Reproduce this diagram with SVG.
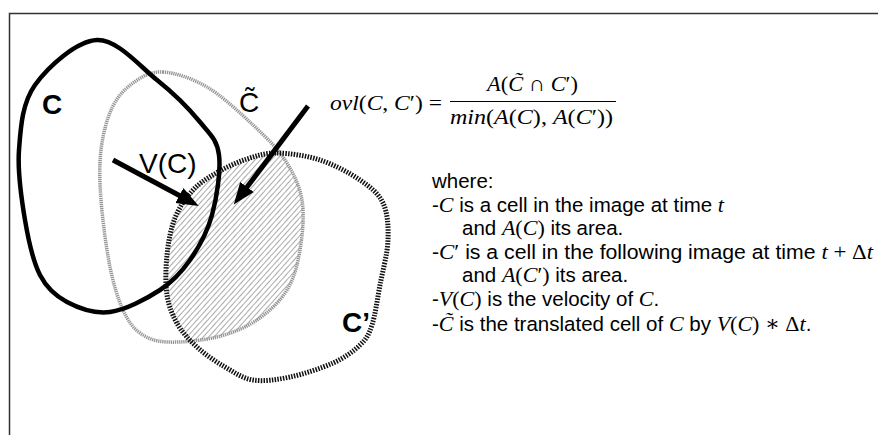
<svg xmlns="http://www.w3.org/2000/svg" width="878" height="435" viewBox="0 0 878 435">
<style>
.lbl{font-family:"Liberation Sans",Arial,sans-serif;font-size:28px;fill:#000}
.b{font-weight:bold}
.m{font-family:"Liberation Serif","DejaVu Serif",serif;font-size:22px;fill:#000}
.i{font-style:italic}
.t{font-family:"Liberation Sans",Arial,sans-serif;font-size:20.5px;fill:#000}
.mi{font-family:"Liberation Serif","DejaVu Serif",serif;font-style:italic;font-size:22px}
.mr{font-family:"Liberation Serif","DejaVu Serif",serif;font-size:22px}
.arrow{stroke:#000;stroke-width:5;fill:none;marker-end:url(#ah)}
</style>
<defs>
<pattern id="hatch" width="4" height="4" patternUnits="userSpaceOnUse" patternTransform="rotate(42)"><line x1="0" y1="-1" x2="0" y2="6" stroke="#444" stroke-width="0.9"/></pattern>
<path id="pCt" d="M163,72 C175.3,72.7 192,78.2 207,87 C222,95.8 240,112.8 253,125 C266,137.2 276.8,147.5 285,160 C293.2,172.5 299.5,185 302,200 C304.5,215 302.5,235 300,250 C297.5,265 294.2,278.3 287,290 C279.8,301.7 268.7,312.2 257,320 C245.3,327.8 232,333.3 217,337 C202,340.7 179.8,342.7 167,342 C154.2,341.3 147.3,338.3 140,333 C132.7,327.7 128,321 123,310 C118,299 113.7,285.3 110,267 C106.3,248.7 102.5,219.5 101,200 C99.5,180.5 99.2,165.3 101,150 C102.8,134.7 106.7,119.2 112,108 C117.3,96.8 124.5,89 133,83 C141.5,77 150.7,71.3 163,72 Z"/>
<path id="pCp" d="M277,153 C289.2,153.2 306.2,155.5 320,160 C333.8,164.5 349.5,172.8 360,180 C370.5,187.2 378.3,193 383,203 C387.7,213 388.5,226.3 388,240 C387.5,253.7 382.7,270.8 380,285 C377.3,299.2 375.3,315 372,325 C368.7,335 366.5,338.7 360,345 C353.5,351.3 344.7,357.7 333,363 C321.3,368.3 303.3,374.2 290,377 C276.7,379.8 263.8,381.7 253,380 C242.2,378.3 234.2,372.3 225,367 C215.8,361.7 205.8,355 198,348 C190.2,341 183.2,333.8 178,325 C172.8,316.2 168.8,306.7 167,295 C165.2,283.3 165.7,267.8 167,255 C168.3,242.2 170.7,228.8 175,218 C179.3,207.2 185.8,197.7 193,190 C200.2,182.3 209,177.2 218,172 C227,166.8 237.2,162.2 247,159 C256.8,155.8 264.8,152.8 277,153 Z"/>
<clipPath id="ctClip"><use href="#pCt"/></clipPath>
<marker id="ah" markerUnits="userSpaceOnUse" markerWidth="23" markerHeight="20" refX="8" refY="10" orient="auto"><path d="M0,1.5 L22,10 L0,18.5 z" fill="#000"/></marker>
</defs>
<rect width="878" height="435" fill="#fff"/>
<path d="M9.5,435 V13.5 H878" fill="none" stroke="#333" stroke-width="1.5"/>

<g id="overlap">
<use href="#pCp" fill="url(#hatch)" stroke="none" clip-path="url(#ctClip)"/>
</g>
<g id="cell-Ctilde">
<use href="#pCt" fill="none" stroke="#959595" stroke-width="3.5" stroke-dasharray="1.3 0.8"/>
<text class="lbl" x="239" y="112">C̃</text>
</g>
<g id="cell-Cprime">
<use href="#pCp" fill="none" stroke="#111" stroke-width="5" stroke-dasharray="1.5 1.3"/>
<text class="lbl b" x="342" y="332">C’</text>
</g>
<g id="cell-C">
<path d="M97,40 C117.3,39.2 139.8,66.3 157,80 C174.2,93.7 189.7,109.5 200,122 C210.3,134.5 217,139.5 219,155 C221,170.5 216.8,197.5 212,215 C207.2,232.5 198.7,247.5 190,260 C181.3,272.5 173.3,281.3 160,290 C146.7,298.7 125.5,310 110,312 C94.5,314 78.7,308.2 67,302 C55.3,295.8 47,288.7 40,275 C33,261.3 28.5,240.8 25,220 C21.5,199.2 17.3,172.5 19,150 C20.7,127.5 22,103.3 35,85 C48,66.7 76.7,40.8 97,40 Z" fill="none" stroke="#000" stroke-width="4.5"/>
<text class="lbl b" x="42" y="114" font-size="29">C</text>
</g>
<g id="connectors">
<line class="arrow" x1="113" y1="160" x2="186.4" y2="199.3"/>
<text class="lbl" x="139" y="173">V(C)</text>
<line class="arrow" x1="308" y1="106" x2="242.2" y2="193.4"/>
</g>
<g id="formula">
<text class="m" x="330" y="110" textLength="112" lengthAdjust="spacingAndGlyphs"><tspan class="i">ovl</tspan>(<tspan class="i">C</tspan>, <tspan class="i">C</tspan>′) =</text>
<text class="m" x="487" y="91" textLength="91" lengthAdjust="spacingAndGlyphs"><tspan class="i">A</tspan>(<tspan class="i">C̃</tspan> ∩ <tspan class="i">C</tspan>′)</text>
<line x1="450" y1="101.5" x2="616" y2="101.5" stroke="#000" stroke-width="1"/>
<text class="m" x="450" y="124" textLength="163" lengthAdjust="spacingAndGlyphs"><tspan class="i">min</tspan>(<tspan class="i">A</tspan>(<tspan class="i">C</tspan>), <tspan class="i">A</tspan>(<tspan class="i">C</tspan>′))</text>
</g>
<g id="legend">
<text class="t" x="432" y="188">where:</text>
<text class="t" x="432" y="211.5">-<tspan class="mi">C</tspan> is a cell in the image at time <tspan class="mi">t</tspan></text>
<text class="t" x="462" y="235">and <tspan class="mi">A</tspan><tspan class="mr">(</tspan><tspan class="mi">C</tspan><tspan class="mr">)</tspan> its area.</text>
<text class="t" x="432" y="258.5" textLength="441" lengthAdjust="spacingAndGlyphs">-<tspan class="mi">C</tspan><tspan class="mr">′</tspan> is a cell in the following image at time <tspan class="mi">t</tspan><tspan class="mr"> + Δ</tspan><tspan class="mi">t</tspan></text>
<text class="t" x="462" y="282">and <tspan class="mi">A</tspan><tspan class="mr">(</tspan><tspan class="mi">C</tspan><tspan class="mr">′)</tspan> its area.</text>
<text class="t" x="432" y="305.5">-<tspan class="mi">V</tspan><tspan class="mr">(</tspan><tspan class="mi">C</tspan><tspan class="mr">)</tspan> is the velocity of <tspan class="mi">C</tspan>.</text>
<text class="t" x="432" y="331">-<tspan class="mi">C̃</tspan> is the translated cell of <tspan class="mi">C</tspan> by <tspan class="mi">V</tspan><tspan class="mr">(</tspan><tspan class="mi">C</tspan><tspan class="mr">) ∗ Δ</tspan><tspan class="mi">t</tspan>.</text>
</g>
</svg>
